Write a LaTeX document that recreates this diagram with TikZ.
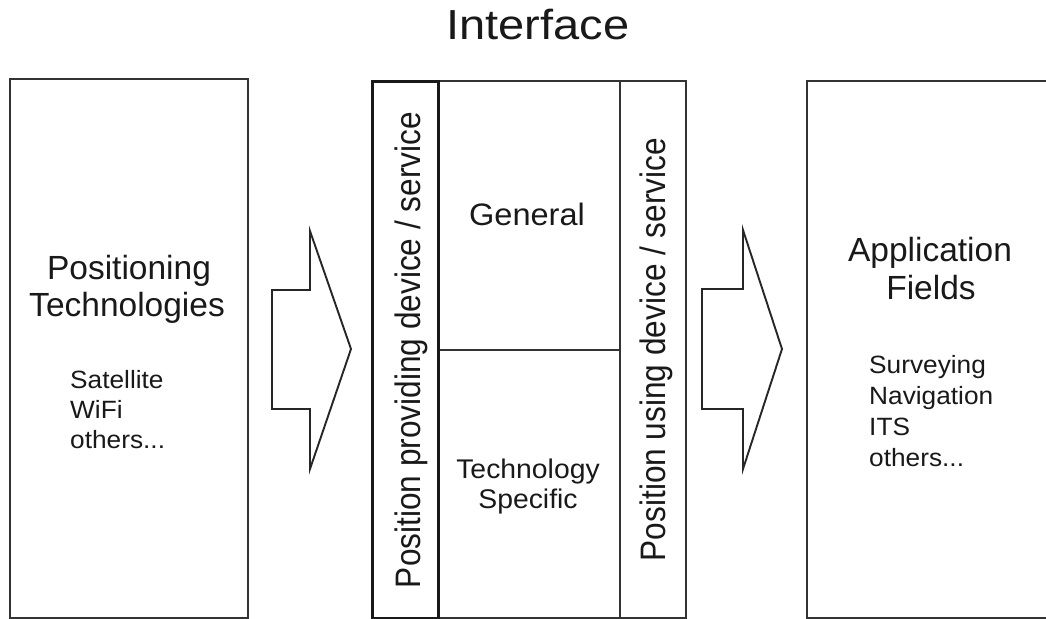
\documentclass[tikz,border=0pt]{standalone}
\usepackage{graphicx}
\usepackage{fontspec}
\setmainfont{Liberation Sans}
\begin{document}
\begin{tikzpicture}[x=1pt, y=-1pt,
  frame/.style={draw=black!80, line width=1.9pt, inner sep=0pt, anchor=north west},
  strip/.style={draw=black!90, line width=2.8pt, inner sep=0pt, anchor=north west},
  blockarrow/.style={draw=black!85, line width=1.9pt, line join=miter},
  htext/.style={inner sep=0pt, anchor=base, text=black!90},
  ltext/.style={htext, anchor=base west},
  vtext/.style={inner sep=0pt, rotate=90, anchor=base, text=black!90,
    font=\fontsize{31.6}{36}\selectfont},
  title/.style={xscale=1.12, font=\fontsize{42}{48}\selectfont},
  head/.style={font=\fontsize{33.5}{38}\selectfont},
  item/.style={xscale=1.05, font=\fontsize{25}{30}\selectfont}]
\useasboundingbox (0,0) rectangle (1046,618);

% outer boxes
\node[frame, minimum width=238pt, minimum height=539pt] (tech) at (9,78) {};
\node[frame, minimum width=270pt, minimum height=537pt] (apps) at (806,80) {};

% interface: general / technology specific core
\node[frame, minimum width=182pt, minimum height=269pt] (general) at (437,80) {};
\node[frame, minimum width=182pt, minimum height=268pt] (specific) at (437,349) {};
\node[frame, minimum width=66pt, minimum height=537pt] (user) at (619,80) {};
\node[strip, minimum width=66pt, minimum height=537pt] (prov) at (371,80) {};

% block arrows
\draw[blockarrow] (272,290) -- (310,290) -- (310,231) -- (351,349)
  -- (310,469) -- (310,409) -- (272,409) -- cycle;
\draw[blockarrow] (702,289) -- (743,289) -- (743,230) -- (782,349)
  -- (743,469) -- (743,409) -- (702,409) -- cycle;

% title
\node[htext, title] (ttl) at (538,40) {Interface};

% positioning technologies
\node[htext, head] (pt1) at (129,279) {Positioning};
\node[htext, head] (pt2) at (127,316) {Technologies};
\node[ltext, item] (pi1) at (70,388) {Satellite};
\node[ltext, item] (pi2) at (70,418) {WiFi};
\node[ltext, item] (pi3) at (70,448) {others...};

% interface texts
\node[vtext] (provtxt) at (420,350) {\scalebox{1}[1.12]{Position providing device / service}};
\node[vtext] (usertxt) at (665,349.5) {\scalebox{1}[1.12]{Position using device / service}};
\node[htext, xscale=1.05, font=\fontsize{31}{36}\selectfont] (gentxt) at (527,225) {General};
\node[htext, xscale=1.05, font=\fontsize{27}{32}\selectfont] (ts1) at (528,478) {Technology};
\node[htext, xscale=1.05, font=\fontsize{27}{32}\selectfont] (ts2) at (528,508) {Specific};

% application fields
\node[htext, head] (af1) at (930,261) {Application};
\node[htext, head] (af2) at (931,299) {Fields};
\node[ltext, item] (ai1) at (869,373) {Surveying};
\node[ltext, item] (ai2) at (869,404) {Navigation};
\node[ltext, item] (ai3) at (869,435) {ITS};
\node[ltext, item] (ai4) at (869,466) {others...};
\end{tikzpicture}
\end{document}
